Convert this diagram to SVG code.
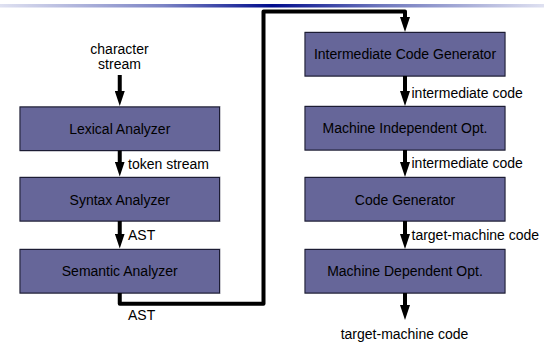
<svg xmlns="http://www.w3.org/2000/svg" width="544" height="342" viewBox="0 0 544 342">
<style>
.box{fill:#666699;stroke:#1c1c33;stroke-width:1}
.sh{fill:#9a9aa6}
.t{font-family:"Liberation Sans",Arial,sans-serif;font-size:14px;fill:#000}
.c{text-anchor:middle}
.ln{fill:none;stroke:#000;stroke-width:4}
</style>
<defs>
<linearGradient id="bar" x1="0" y1="0" x2="1" y2="0">
<stop offset="0" stop-color="#dfe1f1"/>
<stop offset="0.3" stop-color="#7c84c5"/>
<stop offset="0.5" stop-color="#000c8c"/>
<stop offset="0.7" stop-color="#6e77bd"/>
<stop offset="1" stop-color="#dfe1f1"/>
</linearGradient>
<marker id="ah" viewBox="0 -5 15 10" markerWidth="15" markerHeight="10" refX="0.5" refY="0" orient="auto" markerUnits="userSpaceOnUse">
<path d="M0,-5 L15,0 L0,5 z" fill="#000"/>
</marker>
</defs>
<rect x="0" y="4" width="544" height="3.5" fill="url(#bar)"/>

<g id="lexical">
<rect class="sh" x="19.5" y="106" width="201" height="45.5"/>
<rect class="box" x="20" y="107" width="199.5" height="43.5"/>
<text class="t c" x="119.75" y="133.5">Lexical Analyzer</text>
</g>
<g id="syntax">
<rect class="sh" x="19.5" y="176.5" width="201" height="45.5"/>
<rect class="box" x="20" y="177.5" width="199.5" height="43.5"/>
<text class="t c" x="119.75" y="204.5">Syntax Analyzer</text>
</g>
<g id="semantic">
<rect class="sh" x="19.5" y="248.5" width="201" height="45.5"/>
<rect class="box" x="20" y="249.5" width="199.5" height="43.5"/>
<text class="t c" x="119.75" y="276">Semantic Analyzer</text>
</g>
<g id="icg">
<rect class="sh" x="304.5" y="31.5" width="201" height="45.5"/>
<rect class="box" x="305" y="32.5" width="200" height="43.5"/>
<text class="t c" x="405" y="59">Intermediate Code Generator</text>
</g>
<g id="mio">
<rect class="sh" x="304.5" y="105.5" width="201" height="45.5"/>
<rect class="box" x="305" y="106.5" width="200" height="43.5"/>
<text class="t c" x="405" y="133">Machine Independent Opt.</text>
</g>
<g id="cg">
<rect class="sh" x="304.5" y="176.5" width="201" height="45.5"/>
<rect class="box" x="305" y="177.5" width="200" height="43.5"/>
<text class="t c" x="405" y="204.5">Code Generator</text>
</g>
<g id="mdo">
<rect class="sh" x="304.5" y="248.5" width="201" height="45.5"/>
<rect class="box" x="305" y="249.5" width="200" height="43.5"/>
<text class="t c" x="405" y="276">Machine Dependent Opt.</text>
</g>

<g id="connectors">
<path class="ln" d="M119.75,75 V91.5" marker-end="url(#ah)"/>
<path class="ln" d="M119.75,150.5 V162" marker-end="url(#ah)"/>
<path class="ln" d="M119.75,221 V234" marker-end="url(#ah)"/>
<path class="ln" stroke-linejoin="round" d="M119.75,293 V303.8 H263.5 V11.5 H405 V17.5" marker-end="url(#ah)"/>
<path class="ln" d="M405,76 V91.5" marker-end="url(#ah)"/>
<path class="ln" d="M405,150 V162.5" marker-end="url(#ah)"/>
<path class="ln" d="M405,221 V234.5" marker-end="url(#ah)"/>
<path class="ln" d="M405,293 V305.5" marker-end="url(#ah)"/>
</g>

<g id="labels">
<text class="t c" x="119.5" y="54">character</text>
<text class="t c" x="119.5" y="69">stream</text>
<text class="t" x="128" y="169">token stream</text>
<text class="t" x="128" y="239.5">AST</text>
<text class="t" x="128" y="320">AST</text>
<text class="t" x="411.5" y="98">intermediate code</text>
<text class="t" x="411.5" y="168">intermediate code</text>
<text class="t" x="411.5" y="240">target-machine code</text>
<text class="t c" x="404.5" y="339">target-machine code</text>
</g>
</svg>
